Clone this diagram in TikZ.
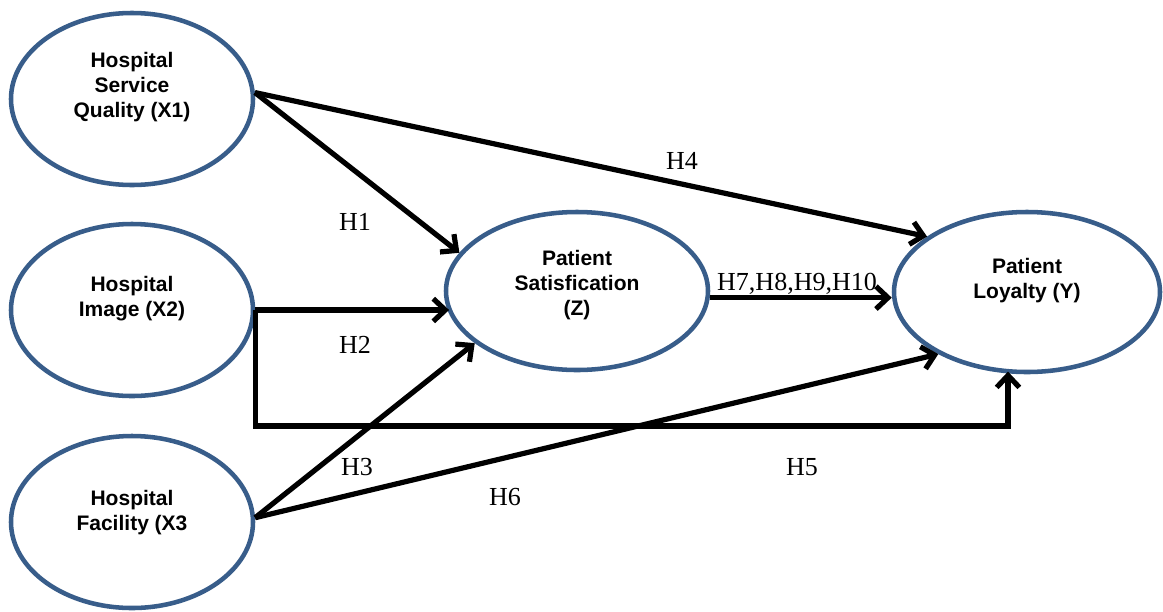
\documentclass[tikz,border=0pt]{standalone}
\usepackage{fontspec}
\setmainfont{Liberation Serif}
\newfontfamily\lsans{Liberation Sans}
\usetikzlibrary{shapes.geometric,arrows.meta,calc}
\definecolor{ellblue}{RGB}{56,93,138}
\begin{document}
\begin{tikzpicture}[x=0.75pt,y=-0.75pt,
  ell/.style={ellipse, draw=ellblue, line width=3.4pt, inner sep=0pt, fill=white},
  smallell/.style={ell, minimum width=181.5pt, minimum height=129pt},
  etxt/.style={font=\lsans\bfseries\fontsize{15.75}{18.75}\selectfont, align=center, inner sep=0pt},
  hl/.style={font=\fontsize{19.5}{22}\selectfont, inner sep=0pt},
  arr/.style={draw=black, line width=3.9pt, line join=miter, -{Straight Barb[length=9pt,width=17pt]}}]
\useasboundingbox (0,0) rectangle (1163,611);
% ellipses
\node[smallell] (x1) at (132,99) {};
\node[smallell] (x2) at (132,310) {};
\node[smallell] (x3) at (132,522) {};
\node[ell, minimum width=196.5pt, minimum height=118.5pt] (z) at (577,291) {};
\node[ell, minimum width=199.5pt, minimum height=120pt] (y) at (1027,292) {};
% texts
\node[etxt] (x1t) at ($(x1)+(0,-12)$) {Hospital\\Service\\Quality (X1)};
\node[etxt] (x2t) at ($(x2)+(0,-11)$) {Hospital\\Image (X2)};
\node[etxt] (x3t) at ($(x3)+(0,-9)$) {Hospital\\Facility (X3};
\node[etxt] (zt) at ($(z)+(0,-6)$) {Patient\\Satisfication\\(Z)};
\node[etxt] (yt) at ($(y)+(0,-11)$) {Patient\\Loyalty (Y)};
% connectors
\coordinate (bend) at (1008,426);
\draw[arr] (x1.3) -- (z.162);
\draw[arr] (x1.3) -- (y.151);
\draw[arr] (x2.east) -- ([xshift=4pt]x2.east -| z.west);
\draw[arr] (x2.east) |- (bend) -- ([yshift=2pt]bend |- y.south);
\draw[arr] (x3.2) -- (z.207);
\draw[arr] (x3.2) -- (y.215);
\draw[arr] ([yshift=-5pt]z.east) -- ([yshift=-5pt]z.east -| y.west);
% labels
\node[hl] (h1) at (355,222) {H1};
\node[hl] (h4) at (682,161) {H4};
\node[hl] (h2) at (355,345) {H2};
\node[hl] (h3) at (357,467) {H3};
\node[hl] (h6) at (505,497) {H6};
\node[hl] (h5) at (802,467) {H5};
\node[hl] (h7) at (797,284) {H7,H8,H9,H10};
\end{tikzpicture}
\end{document}
